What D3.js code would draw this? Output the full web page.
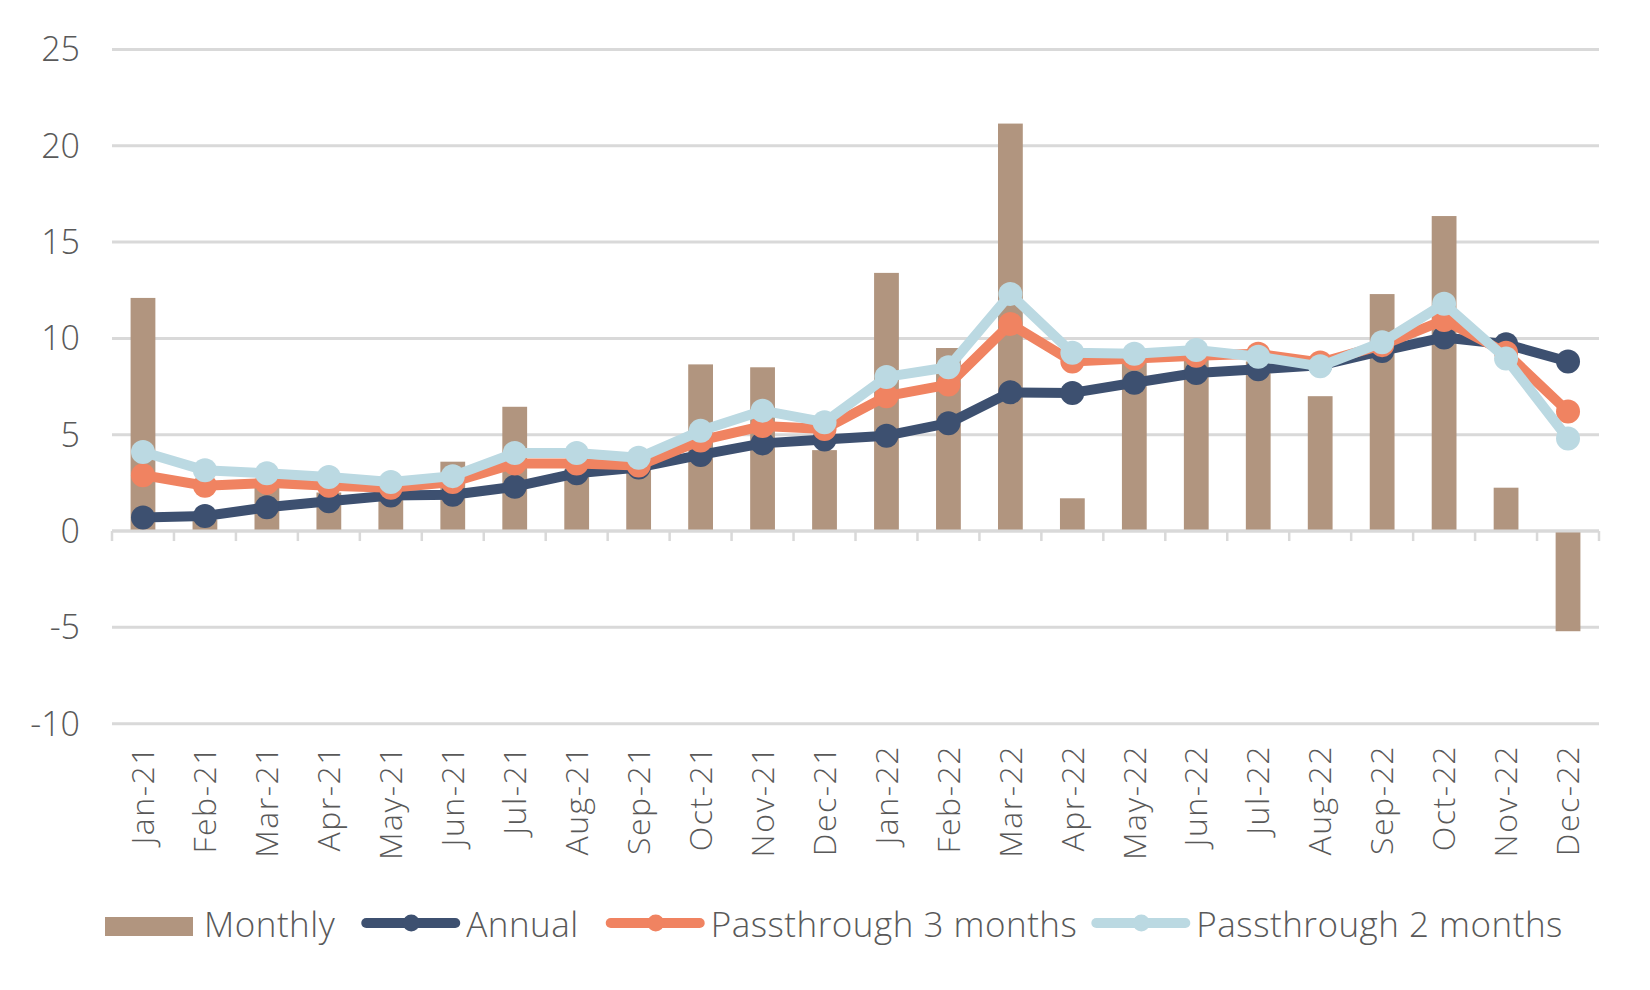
<!DOCTYPE html>
<html>
<head>
  <meta charset='utf-8'/>
  <style>
body { margin: 0; background: #fff; }
text { font-family: "Open Sans", "Fira Sans", Roboto, sans-serif; font-weight: 300; fill: #595959; }
.grid line { stroke: #d9d9d9; stroke-width: 3px; }
  </style>
  <script src="https://d3js.org/d3.v7.min.js"></script>
</head>
<body>
<svg width="1650" height="990"></svg>
<script>

var months = ["Jan-21","Feb-21","Mar-21","Apr-21","May-21","Jun-21","Jul-21","Aug-21","Sep-21","Oct-21","Nov-21","Dec-21",
              "Jan-22","Feb-22","Mar-22","Apr-22","May-22","Jun-22","Jul-22","Aug-22","Sep-22","Oct-22","Nov-22","Dec-22"];

var monthly  = [12.1, 0.6, 2.5, 2.0, 2.1, 3.6, 6.45, 3.2, 3.3, 8.65, 8.5, 4.2,
                13.4, 9.5, 21.15, 1.7, 8.9, 9.1, 8.8, 7.0, 12.3, 16.35, 2.25, -5.2];
var annual   = [0.7, 0.78, 1.23, 1.55, 1.85, 1.88, 2.3, 3.0, 3.3, 3.95, 4.55, 4.75,
                4.95, 5.6, 7.2, 7.17, 7.7, 8.2, 8.4, 8.6, 9.35, 10.05, 9.7, 8.8];
var pass3    = [2.9, 2.35, 2.5, 2.35, 2.25, 2.55, 3.5, 3.5, 3.4, 4.7, 5.45, 5.3,
                7.0, 7.6, 10.75, 8.8, 8.95, 9.1, 9.2, 8.75, 9.65, 10.95, 9.25, 6.2];
var pass2    = [4.1, 3.15, 3.0, 2.8, 2.55, 2.85, 4.05, 4.05, 3.8, 5.2, 6.25, 5.65,
                8.0, 8.5, 12.3, 9.25, 9.2, 9.4, 9.05, 8.55, 9.8, 11.8, 8.95, 4.8];
var yTicks   = [-10, -5, 0, 5, 10, 15, 20, 25];

var colBar = "#b1957f", colAnnual = "#3d5070", colP3 = "#f08361", colP2 = "#bbd9e2";

var svg = d3.select("svg");

var x = d3.scaleBand().domain(months).range([112, 1599]).paddingInner(0.6).paddingOuter(0.3);
var y = d3.scaleLinear().domain([-10, 25]).range([723.7, 49.4]);
var cx = function(d, i) { return x(months[i]) + x.bandwidth() / 2; };

// gridlines
svg.append("g").attr("class", "grid")
  .selectAll("line").data(yTicks).enter().append("line")
    .attr("x1", 112).attr("x2", 1599)
    .attr("y1", function(d) { return y(d); }).attr("y2", function(d) { return y(d); });

// y labels
svg.append("g").selectAll("text").data(yTicks).enter().append("text")
    .attr("x", 80).attr("y", function(d) { return y(d); }).attr("dy", "0.35em")
    .attr("text-anchor", "end").style("font-size", "34px")
    .text(function(d) { return d; });

// bars
svg.append("g").selectAll("rect").data(monthly).enter().append("rect")
    .attr("x", function(d, i) { return x(months[i]); })
    .attr("width", x.bandwidth())
    .attr("y", function(d) { return y(Math.max(0, d)); })
    .attr("height", function(d) { return Math.abs(y(d) - y(0)); })
    .attr("fill", colBar);

// x axis line + ticks between categories
var axis = svg.append("g").attr("class", "grid");
axis.append("line").attr("x1", 112).attr("x2", 1599).attr("y1", y(0)).attr("y2", y(0));
axis.selectAll(".tick").data(d3.range(months.length + 1)).enter().append("line")
    .attr("x1", function(i) { return 112 + i * x.step(); })
    .attr("x2", function(i) { return 112 + i * x.step(); })
    .attr("y1", y(0)).attr("y2", y(0) + 10)
    .style("stroke-width", "2.5px");

// x labels
svg.append("g").selectAll("text").data(months).enter().append("text")
    .attr("transform", function(d) { return "translate(" + (x(d) + x.bandwidth() / 2) + ",745) rotate(-90)"; })
    .attr("dy", "0.35em").attr("text-anchor", "end")
    .style("font-size", "32px").style("letter-spacing", "1.5px")
    .text(function(d) { return d; });

// lines
var line = d3.line().x(cx).y(function(d) { return y(d); });
[[annual, colAnnual], [pass3, colP3], [pass2, colP2]].forEach(function(s) {
  var g = svg.append("g");
  g.append("path").datum(s[0]).attr("d", line)
    .attr("fill", "none").attr("stroke", s[1]).attr("stroke-width", 10).attr("stroke-linejoin", "round");
  g.selectAll("circle").data(s[0]).enter().append("circle")
    .attr("cx", cx).attr("cy", function(d) { return y(d); }).attr("r", 12)
    .attr("fill", s[1]);
});

// legend
var legendItems = [["Monthly", colBar, "bar"], ["Annual", colAnnual, "line"],
                   ["Passthrough 3 months", colP3, "line"], ["Passthrough 2 months", colP2, "line"]];
var gaps = [26, 27, 14, 0];
var lx = 105, ly = 925;
legendItems.forEach(function(it, i) {
  var g = svg.append("g");
  if (it[2] == "bar") {
    g.append("rect").attr("x", lx).attr("y", ly - 8).attr("width", 88).attr("height", 19).attr("fill", it[1]);
    lx += 99;
  } else {
    g.append("line").attr("x1", lx + 5).attr("x2", lx + 94).attr("y1", ly - 2).attr("y2", ly - 2)
      .attr("stroke", it[1]).attr("stroke-width", 10).attr("stroke-linecap", "round");
    g.append("circle").attr("cx", lx + 50).attr("cy", ly - 2).attr("r", 8.5).attr("fill", it[1]);
    lx += 105;
  }
  var t = g.append("text").attr("x", lx).attr("y", ly).attr("dy", "0.35em")
    .style("font-size", "35px").style("letter-spacing", "0.5px").text(it[0]);
  lx += t.node().getComputedTextLength() + gaps[i];
});

</script>
</body>
</html>
